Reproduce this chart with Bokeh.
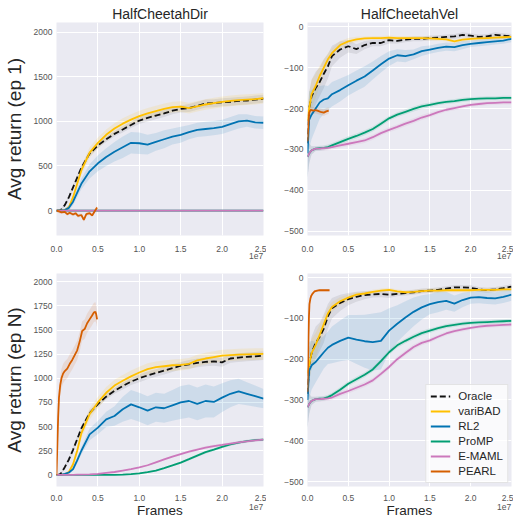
from bokeh.plotting import figure
from bokeh.models import Range1d, FixedTicker, CustomJSTickFormatter, Legend, LinearAxis
from bokeh.layouts import column, row
from bokeh.embed import file_html
from bokeh.resources import INLINE

# ---------------- data (x in units of 1e7 frames) ----------------
X = [0, .02, .05, .1, .15, .2, .25, .3, .4, .5, .6, .7, .8, .9, 1.0, 1.1, 1.2, 1.3, 1.4, 1.5,
     1.6, 1.7, 1.8, 1.9, 2.0, 2.1, 2.2, 2.3, 2.4, 2.5]
x_frames = [v * 1e7 for v in X]

methods = ["Oracle", "variBAD", "RL2", "ProMP", "E-MAML", "PEARL"]
colors = ["#111111", "#FFC000", "#0173B2", "#029E73", "#CC78BC", "#D55E00"]
titles = ["HalfCheetahDir", "HalfCheetahVel"]
ylabels = ["Avg return (ep 1)", "Avg return (ep N)"]
xtick_labels = ["0.0", "0.5", "1.0", "1.5", "2.0", "2.5"]
offset_text = "1e7"

# HalfCheetahDir, episode 1
dir1_oracle = [0, 0, 5, 60, 150, 260, 370, 480, 640, 730, 800, 860, 910, 960, 1010, 1040, 1065, 1090, 1120, 1140,
               1150, 1175, 1200, 1205, 1215, 1220, 1230, 1235, 1245, 1255]
dir1_varibad = [0, 0, 0, 5, 40, 150, 300, 450, 650, 760, 850, 920, 975, 1020, 1060, 1090, 1115, 1140, 1160, 1165,
                1150, 1170, 1190, 1205, 1220, 1230, 1240, 1245, 1250, 1260]
dir1_rl2 = [0, 0, 0, 5, 30, 100, 200, 300, 440, 530, 600, 660, 710, 760, 755, 740, 770, 800, 830, 850,
            880, 905, 915, 925, 940, 970, 1000, 1010, 990, 985]
dir1_promp = [0] * 30
dir1_emaml = [0] * 30
dir1_pearl_x = [0, .03, .06, .1, .13, .16, .2, .23, .26, .3, .33, .36, .4, .43, .46, .49]
dir1_pearl = [0, -10, -20, -15, -40, -25, -45, -30, -60, -50, -105, -40, -30, -55, -10, 35]
dir1_spread_oracle = [0, 5, 10, 20, 25, 30, 30, 30, 30, 30, 30, 30, 35, 35, 40, 40, 40, 40, 40, 40,
                      45, 45, 45, 45, 45, 45, 45, 45, 45, 45]
dir1_spread_varibad = [0, 5, 5, 10, 20, 30, 40, 50, 60, 60, 60, 60, 60, 60, 60, 60, 60, 60, 60, 60,
                       60, 60, 60, 60, 60, 60, 60, 60, 60, 60]
dir1_spread_rl2 = [5, 5, 10, 20, 30, 40, 50, 60, 80, 90, 100, 110, 120, 120, 120, 110, 100, 100, 90, 90,
                   80, 80, 80, 80, 80, 80, 80, 70, 70, 70]
dir1_spread_small = [10] * 30
dir1_spread_pearl = [20] * 16

# HalfCheetahVel, episode 1
vel1_oracle = [-285, -200, -170, -150, -135, -115, -97, -72, -56, -48, -55, -45, -40, -40, -33, -35, -32, -30, -30, -28,
               -27, -25, -24, -20, -22, -25, -24, -20, -22, -24]
vel1_varibad = [-230, -200, -165, -145, -120, -100, -80, -65, -45, -36, -31, -29, -28, -28, -27, -28, -28, -28, -28, -29,
                -30, -31, -36, -32, -30, -29, -28, -27, -26, -25]
vel1_rl2 = [-310, -228, -215, -200, -185, -178, -175, -165, -155, -143, -132, -122, -107, -92, -78, -70, -72, -68, -60, -56,
            -52, -49, -50, -45, -42, -40, -38, -36, -34, -30]
vel1_promp = [-318, -310, -302, -298, -297, -296, -294, -290, -282, -274, -267, -259, -250, -237, -224, -215, -208, -201, -195, -191,
              -187, -184, -182, -179, -177, -176, -175, -175, -174, -174]
vel1_emaml = [-318, -310, -302, -298, -298, -297, -296, -294, -290, -286, -282, -278, -270, -260, -252, -245, -237, -230, -222, -216,
              -209, -203, -199, -195, -191, -189, -187, -186, -185, -185]
vel1_pearl_x = [0, .01, .02, .04, .07, .1, .13, .16, .2, .23, .26]
vel1_pearl = [-280, -240, -210, -203, -205, -204, -206, -208, -210, -207, -205]
vel1_spread_oracle = [40, 40, 40, 40, 35, 35, 30, 25, 20, 15, 12, 10, 8, 8, 8, 6, 6, 6, 6, 6,
                      6, 6, 6, 6, 6, 6, 6, 6, 6, 6]
vel1_spread_varibad = [40, 40, 35, 30, 25, 20, 15, 12, 10, 8, 6, 5, 5, 5, 5, 5, 5, 5, 5, 5,
                       5, 5, 5, 5, 5, 5, 5, 5, 5, 5]
vel1_spread_rl2 = [80, 70, 60, 50, 40, 35, 30, 30, 28, 25, 25, 25, 22, 20, 18, 15, 15, 12, 12, 10,
                   10, 10, 10, 10, 8, 8, 8, 8, 8, 8]
vel1_spread_small = [50, 25, 10, 6, 6, 6, 6, 6, 6, 6, 6, 6, 6, 6, 6, 6, 6, 6, 6, 6,
                     5, 5, 5, 5, 5, 5, 5, 5, 5, 5]
vel1_spread_pearl = [8] * 11

# HalfCheetahDir, episode N
dirN_oracle = [0, 0, 10, 80, 160, 260, 370, 480, 640, 733, 810, 870, 920, 965, 1000, 1030, 1055, 1080, 1105, 1130,
               1145, 1160, 1170, 1175, 1165, 1205, 1215, 1222, 1228, 1235]
dirN_varibad = [0, 0, 0, 5, 30, 110, 250, 430, 630, 750, 850, 925, 975, 1020, 1060, 1095, 1115, 1125, 1135, 1140,
                1150, 1185, 1205, 1220, 1235, 1240, 1245, 1248, 1250, 1252]
dirN_rl2 = [0, 0, 0, 10, 25, 60, 150, 250, 420, 490, 575, 610, 680, 730, 700, 665, 700, 690, 720, 750,
            765, 735, 765, 755, 800, 840, 865, 840, 815, 790]
dirN_promp = [0, 0, 0, 0, 0, 0, 0, 0, 0, 0, 0, 1, 2, 8, 15, 28, 45, 70, 98, 128,
              163, 200, 235, 262, 290, 315, 335, 350, 360, 366]
dirN_emaml = [0, 0, 0, 0, 0, 1, 2, 3, 6, 10, 20, 30, 45, 60, 78, 100, 130, 160, 190, 215,
              240, 262, 283, 298, 310, 323, 336, 347, 357, 366]
dirN_pearl_x = [0, .01, .02, .03, .045, .06, .08, .1, .13, .16, .19, .22, .25, .28, .31, .34, .37, .4, .43, .45, .47, .48, .49]
dirN_pearl = [0, 300, 600, 800, 930, 1000, 1050, 1075, 1100, 1150, 1190, 1240, 1290, 1380, 1490, 1510, 1570, 1610, 1650, 1680,
              1690, 1660, 1610]
dirN_spread_oracle = [0, 5, 10, 20, 25, 30, 30, 30, 30, 30, 30, 30, 35, 35, 40, 40, 40, 40, 40, 40,
                      45, 45, 45, 45, 45, 45, 45, 45, 45, 45]
dirN_spread_varibad = [0, 5, 5, 10, 20, 30, 40, 50, 60, 60, 60, 60, 60, 60, 60, 60, 60, 60, 60, 60,
                       60, 60, 60, 60, 60, 60, 60, 60, 60, 60]
dirN_spread_rl2 = [5, 5, 5, 10, 15, 20, 30, 40, 60, 70, 80, 100, 130, 150, 150, 150, 150, 150, 160, 170,
                   170, 170, 170, 160, 150, 140, 130, 120, 110, 100]
dirN_spread_small = [3, 3, 3, 3, 3, 3, 3, 3, 3, 3, 4, 4, 5, 6, 7, 8, 9, 10, 11, 12,
                     13, 14, 15, 15, 15, 15, 15, 15, 15, 15]
dirN_spread_pearl = [0, 40, 60, 80, 90, 100, 100, 100, 100, 100, 100, 100, 100, 100, 100, 100, 100, 100, 100, 100,
                     100, 90, 80]

# HalfCheetahVel, episode N
velN_oracle = [-285, -215, -185, -160, -145, -125, -95, -75, -62, -53, -47, -43, -41, -40, -42, -40, -38, -36, -33, -32,
               -30, -27, -24, -24, -25, -29, -31, -29, -26, -22]
velN_varibad = [-235, -215, -185, -165, -140, -114, -88, -72, -58, -49, -42, -39, -35, -32, -30, -34, -36, -35, -33, -32,
                -32, -31, -31, -31, -31, -30, -30, -30, -29, -29]
velN_rl2 = [-300, -228, -215, -207, -195, -183, -172, -165, -155, -147, -152, -156, -158, -155, -130, -113, -98, -84, -73, -65,
            -60, -57, -64, -55, -49, -48, -50, -51, -47, -42]
velN_promp = [-318, -310, -302, -298, -297, -296, -293, -288, -275, -260, -249, -238, -225, -205, -183, -166, -155, -145, -136, -130,
              -124, -119, -116, -113, -111, -110, -109, -108, -107, -106]
velN_emaml = [-318, -310, -302, -298, -298, -297, -296, -294, -285, -278, -270, -262, -252, -236, -219, -200, -185, -170, -160, -154,
              -145, -137, -131, -127, -123, -120, -118, -117, -116, -115]
velN_pearl_x = [0, .006, .012, .018, .024, .035, .045, .06, .085, .12, .15, .2, .27]
velN_pearl = [-280, -220, -146, -95, -65, -52, -45, -40, -34, -32, -31, -31, -31]
velN_spread_oracle = [40, 40, 40, 40, 35, 35, 30, 25, 20, 15, 12, 10, 8, 8, 8, 6, 6, 6, 6, 6,
                      6, 6, 6, 6, 6, 6, 6, 6, 6, 6]
velN_spread_varibad = [40, 40, 35, 30, 25, 20, 15, 12, 10, 8, 6, 5, 5, 5, 5, 5, 5, 5, 5, 5,
                       5, 5, 5, 5, 5, 5, 5, 5, 5, 5]
velN_spread_rl2 = [80, 70, 60, 50, 45, 40, 40, 45, 50, 55, 60, 65, 70, 70, 55, 45, 40, 35, 30, 25,
                   25, 22, 20, 18, 15, 15, 15, 15, 15, 15]
velN_spread_small = [50, 25, 10, 6, 6, 6, 6, 6, 6, 6, 6, 6, 6, 6, 6, 6, 6, 6, 6, 6,
                     5, 5, 5, 5, 5, 5, 5, 5, 5, 5]
velN_spread_pearl = [10, 10, 8, 6, 5, 4, 4, 3, 3, 3, 3, 3, 3]

panels = [
    dict(series=[dir1_oracle, dir1_varibad, dir1_rl2, dir1_promp, dir1_emaml],
         spreads=[dir1_spread_oracle, dir1_spread_varibad, dir1_spread_rl2, dir1_spread_small, dir1_spread_small],
         pearl_x=dir1_pearl_x, pearl=dir1_pearl, pearl_spread=dir1_spread_pearl,
         yr=(-280, 2110), yticks=[0, 500, 1000, 1500, 2000]),
    dict(series=[vel1_oracle, vel1_varibad, vel1_rl2, vel1_promp, vel1_emaml],
         spreads=[vel1_spread_oracle, vel1_spread_varibad, vel1_spread_rl2, vel1_spread_small, vel1_spread_small],
         pearl_x=vel1_pearl_x, pearl=vel1_pearl, pearl_spread=vel1_spread_pearl,
         yr=(-510, 10), yticks=[-500, -400, -300, -200, -100, 0]),
    dict(series=[dirN_oracle, dirN_varibad, dirN_rl2, dirN_promp, dirN_emaml],
         spreads=[dirN_spread_oracle, dirN_spread_varibad, dirN_spread_rl2, dirN_spread_small, dirN_spread_small],
         pearl_x=dirN_pearl_x, pearl=dirN_pearl, pearl_spread=dirN_spread_pearl,
         yr=(-120, 2085), yticks=[0, 250, 500, 750, 1000, 1250, 1500, 1750, 2000]),
    dict(series=[velN_oracle, velN_varibad, velN_rl2, velN_promp, velN_emaml],
         spreads=[velN_spread_oracle, velN_spread_varibad, velN_spread_rl2, velN_spread_small, velN_spread_small],
         pearl_x=velN_pearl_x, pearl=velN_pearl, pearl_spread=velN_spread_pearl,
         yr=(-512, 10), yticks=[-500, -400, -300, -200, -100, 0]),
]

FONT = "Liberation Sans"
TEXT = "#262626"
TICK = "#555555"

# layout geometry: (width, height, border left, right, top, bottom, x label standoff)
geoms = [
    (266, 263, 51, 3, 22, 28, 10),
    (247, 263, 41, 2, 22, 28, 10),
    (266, 257, 51, 3, 10, 34, 8),
    (247, 257, 41, 2, 10, 34, 8),
]


def style_axis(ax, standoff):
    ax.axis_line_color = None
    ax.major_tick_line_color = None
    ax.minor_tick_line_color = None
    ax.major_tick_out = 0
    ax.major_tick_in = 0
    ax.minor_tick_out = 0
    ax.minor_tick_in = 0
    ax.major_label_text_font = FONT
    ax.major_label_text_font_size = "8.5px"
    ax.major_label_text_color = TICK
    ax.major_label_standoff = standoff


def make_panel(i):
    d = panels[i]
    w, h, bl, br, bt, bb, xs = geoms[i]
    p = figure(width=w, height=h, x_range=Range1d(0, 2.5e7), y_range=Range1d(*d["yr"]),
               output_backend="svg", toolbar_location=None,
               min_border_left=bl, min_border_right=br, min_border_top=bt, min_border_bottom=bb)
    p.background_fill_color = "#EAEAF2"
    p.border_fill_color = "white"
    p.outline_line_color = None
    for g in (p.xgrid, p.ygrid):
        g.grid_line_color = "white"
        g.grid_line_width = 1
    p.xaxis.ticker = FixedTicker(ticks=[0, 5e6, 1e7, 1.5e7, 2e7, 2.5e7])
    p.xaxis.formatter = CustomJSTickFormatter(args=dict(labels=xtick_labels),
                                              code="return labels[Math.round(tick/5e6)];")
    p.yaxis.ticker = FixedTicker(ticks=d["yticks"])
    style_axis(p.xaxis[0], xs)
    style_axis(p.yaxis[0], 4)

    # offset text "1e7" (and the "Frames" label on the bottom row)
    ax2 = LinearAxis(ticker=FixedTicker(ticks=[2.41e7]),
                     formatter=CustomJSTickFormatter(args=dict(t=offset_text), code="return t;"))
    style_axis(ax2, -2 if i < 2 else 0)
    if i >= 2:
        ax2.axis_label = "Frames"
        ax2.axis_label_text_font = FONT
        ax2.axis_label_text_font_size = "13.5px"
        ax2.axis_label_text_font_style = "normal"
        ax2.axis_label_text_color = TEXT
        ax2.axis_label_standoff = -10
    p.add_layout(ax2, "below")

    if i < 2:
        p.title.text = titles[i]
        p.title.align = "center"
        p.title.text_font = FONT
        p.title.text_font_size = "14px"
        p.title.text_font_style = "normal"
        p.title.text_color = TEXT
        p.title.standoff = 2
    if i % 2 == 0:
        p.yaxis.axis_label = ylabels[i // 2]
        p.yaxis.axis_label_text_font = FONT
        p.yaxis.axis_label_text_font_size = "19px"
        p.yaxis.axis_label_text_font_style = "normal"
        p.yaxis.axis_label_text_color = TEXT
        p.yaxis.axis_label_standoff = 6

    renderers = []
    for k, (ys, sp) in enumerate(zip(d["series"], d["spreads"])):
        lo = [a - b for a, b in zip(ys, sp)]
        hi = [a + b for a, b in zip(ys, sp)]
        p.varea(x=x_frames, y1=lo, y2=hi, fill_color=colors[k], fill_alpha=0.12 if k else 0.08)
    px = [v * 1e7 for v in d["pearl_x"]]
    lo = [a - b for a, b in zip(d["pearl"], d["pearl_spread"])]
    hi = [a + b for a, b in zip(d["pearl"], d["pearl_spread"])]
    p.varea(x=px, y1=lo, y2=hi, fill_color=colors[5], fill_alpha=0.12)
    for k, ys in enumerate(d["series"]):
        r = p.line(x_frames, ys, line_color=colors[k], line_width=1.8,
                   line_dash="6 3" if k == 0 else "solid")
        renderers.append(r)
    r = p.line(px, d["pearl"], line_color=colors[5], line_width=1.8)
    renderers.append(r)

    if i == 3:
        leg = Legend(items=[(m, [r]) for m, r in zip(methods, renderers)],
                     location="bottom_right")
        leg.label_text_font = FONT
        leg.label_text_font_size = "11.5px"
        leg.label_text_color = TEXT
        leg.glyph_width = 20
        leg.glyph_height = 14
        leg.label_height = 14
        leg.label_standoff = 8
        leg.spacing = 1
        leg.padding = 4
        leg.margin = 3
        leg.background_fill_color = "white"
        leg.background_fill_alpha = 0.75
        leg.border_line_color = "#CCCCCC"
        leg.border_line_width = 1
        p.add_layout(leg, "center")
    return p


figs = [make_panel(i) for i in range(4)]
layout = column(row(figs[0], figs[1]), row(figs[2], figs[3]))
open("out.html", "w").write(file_html(layout, INLINE))
